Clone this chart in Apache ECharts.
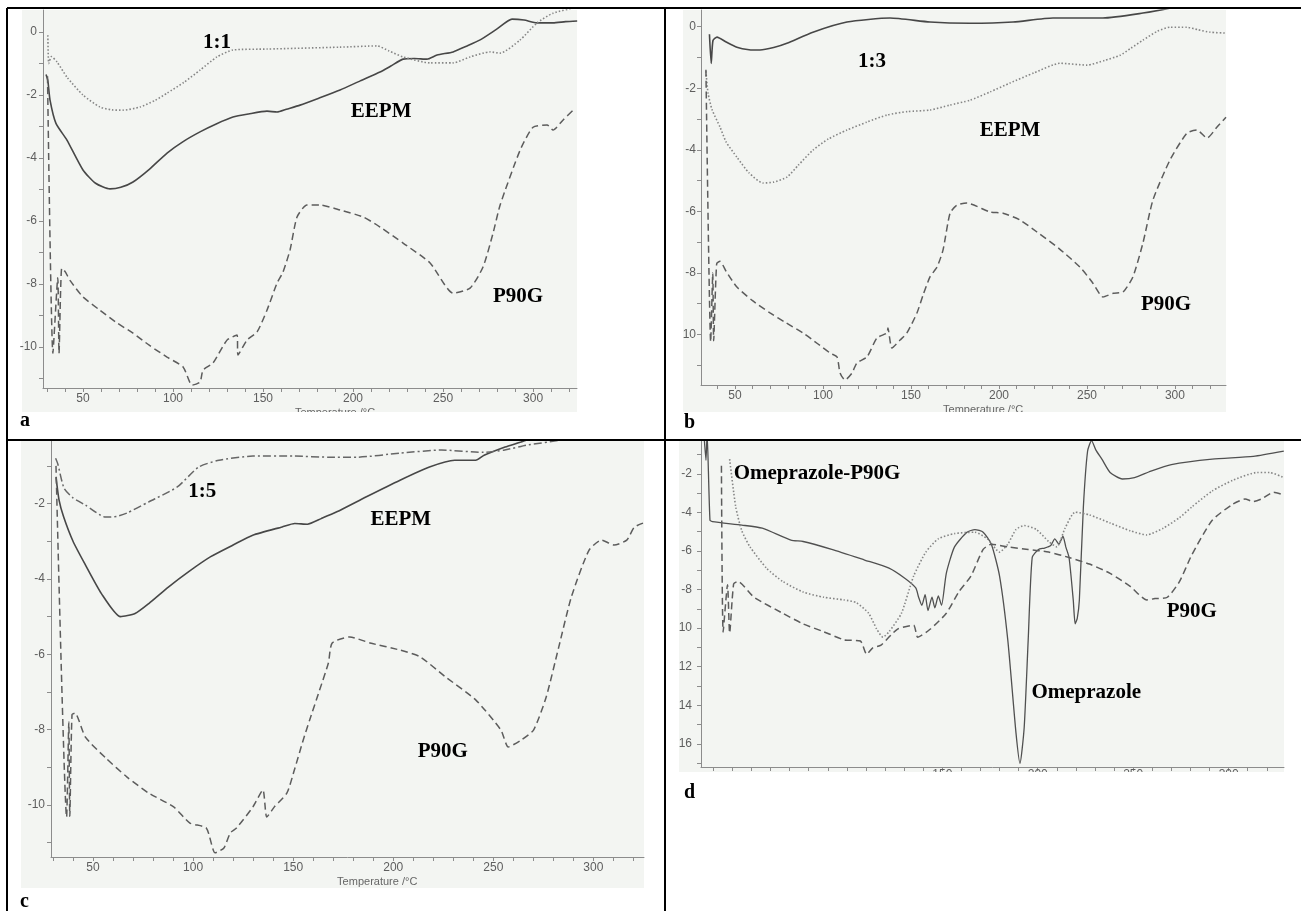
<!DOCTYPE html>
<html>
<head>
<meta charset="utf-8">
<script src="https://cdn.jsdelivr.net/npm/echarts@6/dist/echarts.min.js"></script>
<style>
  html, body { margin: 0; padding: 0; background: #fff; }
  #chart { width: 1301px; height: 911px; }
</style>
</head>
<body>
<div id="chart"></div>
<script>
// DSC thermograms, four panels (a-d). x = temperature (°C), y = heat flow.
// values as [temperature, heat flow] pairs

var xLabelVals = [50, 100, 150, 200, 250, 300];
var xLabelsD = [150, 200, 250, 300];
var yLabelsAB = [0, -2, -4, -6, -8, -10];
var yLabelsC = [-2, -4, -6, -8, -10];
var yLabelsD = [-2, -4, -6, -8, -10, -12, -14, -16];

// panel a : EEPM (solid), 1:1 (dotted), P90G (dashed)
var aEepm = [[29.5,-1.35],[30.5,-1.55],[31.7,-2.16],[35,-2.9],[41.1,-3.43],[50,-4.38],[57,-4.8],[65,-4.98],[71,-4.93],[77.8,-4.76],[87,-4.35],[96.7,-3.84],[105,-3.5],[115,-3.17],[124,-2.92],[133.3,-2.7],[142,-2.6],[152.2,-2.51],[157.8,-2.54],[163,-2.45],[170.6,-2.32],[181,-2.1],[192.8,-1.84],[204,-1.55],[215,-1.27],[221,-1.08],[227.8,-0.86],[234,-0.84],[241.1,-0.86],[246.7,-0.73],[255.6,-0.63],[263,-0.45],[270.6,-0.25],[280,0.1],[288.3,0.41],[295,0.38],[302.2,0.29],[311.1,0.29],[318,0.33],[324.5,0.35]];
var aRatio = [[30.5,-0.1],[31,-1.0],[32.5,-0.78],[35.6,-0.95],[41.1,-1.43],[50,-2.0],[59.4,-2.38],[66,-2.47],[72.2,-2.48],[81.7,-2.38],[90,-2.17],[96.7,-1.94],[106,-1.6],[115,-1.21],[124.4,-0.79],[133.3,-0.57],[152.2,-0.54],[192.8,-0.48],[213.3,-0.44],[220,-0.6],[227.8,-0.79],[242.8,-0.98],[255.6,-0.98],[265,-0.79],[276.1,-0.63],[281.7,-0.67],[292.8,-0.25],[302.2,0.29],[311.1,0.6],[322.2,0.76]];
var aP90g = [[30.3,-1.4],[33.3,-10.2],[36.0,-7.8],[36.7,-10.2],[38.2,-7.5],[40,-7.6],[43,-7.9],[50,-8.41],[59.4,-8.83],[68,-9.2],[77.8,-9.56],[87,-9.95],[96.7,-10.32],[105.6,-10.63],[110.6,-11.21],[115,-11.11],[116.7,-10.73],[122.2,-10.51],[130,-9.78],[135.6,-9.62],[136.1,-10.25],[141.1,-9.78],[146.7,-9.52],[152.2,-8.83],[157.8,-7.97],[161.1,-7.62],[165,-6.92],[168.9,-5.87],[174.4,-5.49],[181.7,-5.49],[192.8,-5.65],[205.6,-5.87],[215,-6.19],[227.8,-6.7],[242.8,-7.33],[255.6,-8.29],[265,-8.13],[272.2,-7.46],[277.8,-6.38],[281.7,-5.49],[292.8,-3.75],[300,-3.02],[307.8,-2.95],[311.1,-3.11],[316.7,-2.79],[322.2,-2.48]];

// panel b : 1:3 (solid), EEPM (dotted), P90G (dashed)
var bRatio = [[35.5,-0.25],[36.5,-1.2],[37.5,-0.45],[39.8,-0.34],[45,-0.5],[51.1,-0.67],[58,-0.75],[64.2,-0.76],[72,-0.68],[79.5,-0.54],[94.3,-0.18],[113.6,0.15],[138.1,0.28],[160.8,0.15],[183.5,0.11],[208,0.15],[230.7,0.28],[259.1,0.28],[281.8,0.44],[297.2,0.6],[312,0.8],[329,0.95]];
var bEepm = [[33.5,-1.45],[34.7,-2.16],[37,-2.7],[41.5,-3.26],[45,-3.75],[51.1,-4.24],[58,-4.75],[65.9,-5.08],[72,-5.05],[79.5,-4.89],[86,-4.5],[94.3,-4.01],[103,-3.65],[113.6,-3.36],[125,-3.1],[136.4,-2.87],[148,-2.76],[160.8,-2.71],[172,-2.55],[183.5,-2.39],[195,-2.12],[206.3,-1.83],[220,-1.5],[234.7,-1.19],[250,-1.25],[260,-1.1],[268.8,-0.93],[275,-0.7],[281.8,-0.44],[290,-0.15],[297.2,-0.02],[306.8,-0.02],[313,-0.1],[319.9,-0.18],[329,-0.21]];
var bP90g = [[33.5,-1.4],[36.2,-10.24],[37.4,-8.0],[37.9,-10.2],[39.6,-7.7],[41.5,-7.62],[45,-7.95],[51.1,-8.46],[60,-8.9],[69.9,-9.3],[79,-9.62],[88.6,-9.95],[97,-10.3],[104,-10.6],[108,-10.73],[109.7,-11.25],[112.5,-11.48],[116.5,-11.25],[119.3,-10.92],[125,-10.73],[130.7,-10.11],[136.4,-9.95],[136.9,-9.79],[139.2,-10.44],[143.8,-10.18],[147.7,-9.95],[153.4,-9.3],[157,-8.7],[160.8,-8.13],[164.8,-7.81],[168.2,-7.26],[172.2,-6.06],[176,-5.8],[181.8,-5.73],[194.9,-6.02],[202.3,-6.06],[211.9,-6.28],[221.6,-6.67],[234,-7.2],[246,-7.81],[253,-8.3],[259.1,-8.78],[265,-8.66],[270.5,-8.62],[276.1,-8.13],[281.8,-7.03],[287.5,-5.63],[297.2,-4.33],[306.8,-3.46],[312.5,-3.36],[318.2,-3.62],[323.9,-3.26],[329,-2.94]];

// panel c : EEPM (solid), 1:5 (dash-dot), P90G (dashed)
var cEepm = [[31.5,-1.3],[33,-1.9],[35.3,-2.35],[40,-3.0],[45.8,-3.59],[54.2,-4.39],[63.7,-5.0],[71,-4.92],[78,-4.65],[87.8,-4.21],[98,-3.8],[108.8,-3.41],[120,-3.1],[129.8,-2.84],[144.5,-2.62],[150.8,-2.53],[157.1,-2.55],[164,-2.4],[171.8,-2.22],[186.6,-1.82],[203.4,-1.38],[218.1,-1.03],[230.7,-0.85],[241.2,-0.85],[245.4,-0.72],[255.9,-0.5],[266.4,-0.32],[280,0]];
var cRatio = [[31.3,-0.8],[32.4,-0.95],[35.5,-1.59],[40,-1.85],[46.2,-2.04],[56.3,-2.36],[62,-2.34],[67,-2.25],[77.7,-1.96],[92.1,-1.56],[102.8,-1.03],[112.9,-0.85],[129.9,-0.74],[150.6,-0.74],[167.6,-0.77],[182.1,-0.77],[203.5,-0.66],[224.2,-0.58],[245,-0.64],[255.7,-0.58],[266.4,-0.45],[282.7,-0.32],[295,-0.1]];
var cP90g = [[31.5,-1.0],[36.8,-10.32],[37.9,-7.8],[38.4,-10.3],[39.5,-7.6],[41,-7.56],[46.2,-8.2],[56.3,-8.75],[67,-9.26],[77.7,-9.68],[90.3,-10.05],[98.4,-10.48],[106.6,-10.61],[111,-11.27],[115.4,-11.14],[118.6,-10.74],[121.7,-10.61],[129.9,-10.05],[134.9,-9.6],[136.8,-10.32],[140.6,-10.05],[146.9,-9.68],[150.6,-9.07],[155,-8.28],[158.2,-7.75],[163.2,-6.95],[167.6,-6.23],[169.5,-5.7],[178.3,-5.54],[188.4,-5.7],[203.5,-5.89],[213.5,-6.07],[226.1,-6.6],[241.2,-7.21],[253.8,-8.01],[257.5,-8.46],[263.8,-8.28],[270.1,-8.01],[276.4,-7.14],[282.7,-5.81],[289,-4.48],[297.8,-3.24],[304.1,-2.97],[310.4,-3.1],[316.7,-2.97],[320.4,-2.63],[324.8,-2.52]];

// panel d : Omeprazole (solid), Omeprazole-P90G (dotted), P90G (dashed)
var dOme = [[25,0.3],[26.2,-1.3],[26.8,0.1],[28.3,-4.4],[29.6,-4.48],[45,-4.66],[55.7,-4.82],[70.7,-5.44],[77.1,-5.51],[92.1,-5.92],[109.3,-6.47],[122.1,-6.89],[130.7,-7.44],[136.1,-7.92],[137.6,-8.4],[139.3,-8.82],[141,-8.26],[142.5,-9.09],[144.6,-8.4],[146.1,-8.95],[147.9,-8.33],[149.6,-8.82],[152.1,-7.16],[156.4,-5.79],[162.9,-5.03],[167.1,-4.89],[171.4,-5.03],[175.7,-5.65],[180,-7.3],[184.3,-10.61],[188.6,-15.43],[190.7,-17.01],[192.9,-15.15],[195,-10.61],[197.1,-6.34],[200.4,-5.92],[203.6,-5.85],[206.8,-5.72],[208.9,-5.37],[211.1,-5.65],[213.2,-5.23],[214.7,-5.79],[216.4,-6.34],[218.6,-8.54],[219.6,-9.78],[220.7,-9.5],[221.8,-8.54],[223.9,-3.72],[226.1,-0.83],[228.2,-0.28],[230.4,-0.76],[233.6,-1.24],[237.9,-1.93],[244.3,-2.27],[250.7,-2.2],[259.3,-1.86],[270,-1.52],[291.4,-1.24],[312.9,-1.1],[328.9,-0.83]];
var dMix = [[38.6,-1.24],[41.8,-3.72],[45,-4.96],[49.3,-5.79],[57.9,-6.89],[66.4,-7.58],[77.1,-8.13],[87.9,-8.4],[98.6,-8.54],[105,-8.68],[111.4,-9.23],[115.7,-10.06],[118.9,-10.47],[122.1,-10.19],[128.6,-9.23],[135,-7.3],[141.4,-6.06],[147.9,-5.37],[156.4,-5.1],[167.1,-5.03],[173.6,-5.37],[180,-6.06],[184.3,-5.65],[188.6,-4.89],[192.9,-4.68],[199.3,-4.89],[205.7,-5.51],[210,-5.79],[214.3,-4.82],[219.6,-3.99],[227.1,-4.13],[237.9,-4.55],[248.6,-4.96],[257.1,-5.17],[265.7,-4.82],[274.3,-4.27],[280.7,-3.72],[291.4,-2.89],[302.1,-2.34],[315,-1.93],[321.4,-1.93],[328.9,-2.2]];
var dP90g = [[34.3,-1.58],[35.2,-10.2],[37.5,-7.75],[38.6,-10.26],[40.7,-7.71],[42.9,-7.58],[51.4,-8.4],[66.4,-9.23],[77.1,-9.78],[87.9,-10.19],[98.6,-10.61],[107.1,-10.67],[110.4,-11.36],[113.6,-11.02],[117.9,-10.88],[126.4,-10.06],[135,-9.85],[137.1,-10.47],[143.6,-10.06],[152.1,-9.23],[158.6,-8.13],[165,-7.3],[171.4,-5.92],[175.7,-5.65],[184.3,-5.79],[195,-5.92],[205.7,-6.06],[216.4,-6.34],[227.1,-6.68],[237.9,-7.16],[248.6,-7.85],[257.1,-8.54],[261.4,-8.47],[267.9,-8.4],[274.3,-7.58],[280.7,-6.2],[291.4,-4.41],[302.1,-3.58],[308.6,-3.31],[312.9,-3.44],[317.1,-3.31],[323.6,-2.96],[328.9,-3.1]];

// curve labels, placed in data units of their panel
var curveLabels = [
  [0, '1:1', 124.4, -0.32, 'center'], [0, 'EEPM', 215.6, -2.51, 'center'], [0, 'P90G', 291.7, -8.41, 'center'],
  [1, '1:3', 127.8, -1.15, 'center'], [1, 'EEPM', 206.3, -3.39, 'center'], [1, 'P90G', 294.9, -9.04, 'center'],
  [2, '1:5', 104.6, -1.69, 'center'], [2, 'EEPM', 203.8, -2.42, 'center'], [2, 'P90G', 224.8, -8.59, 'center'],
  [3, 'Omeprazole-P90G', 40.7, -2.0, 'left'], [3, 'P90G', 280.7, -9.16, 'center'], [3, 'Omeprazole', 225.4, -13.33, 'center']
];

// panel boxes (pixels) and axis extents; cut = white strip left of the scan
var panels = [
  { bg: [22, 10, 555, 402], grid: [43, 10, 534, 378], x: [27.8, 324.4], y: [-11.3, 0.7], xLabels: xLabelVals, yLabels: yLabelsAB, labelMargin: 6, xMargin: 5, letter: ['a', 20, 421], nameT: 190, cut: null },
  { bg: [683, 10, 543, 402], grid: [701, 10, 525, 375], x: [30.7, 329], y: [-11.64, 0.54], xLabels: xLabelVals, yLabels: yLabelsAB, labelMargin: 5, xMargin: 5, letter: ['b', 684, 423], nameT: 191, cut: [666, 9, 17, 430] },
  { bg: [21, 441, 623, 447], grid: [51, 441, 593, 416], x: [29, 325.3], y: [-11.38, -0.34], xLabels: xLabelVals, yLabels: yLabelsC, labelMargin: 6, xMargin: 5, letter: ['c', 20, 902], nameT: 192, cut: null },
  { bg: [679, 441, 605, 331], grid: [701, 441, 583, 326], x: [23.6, 329], y: [-17.2, -0.3], xLabels: xLabelsD, yLabels: yLabelsD, labelMargin: 9, xMargin: 2, letter: ['d', 684, 793], nameT: null, cut: [666, 441, 13, 331] }
];

var sans = "'Liberation Sans', Arial, sans-serif";
var serif = "'Liberation Serif', 'Times New Roman', serif";

function minorTicks(lo, hi, step) {
  var out = [];
  var t = Math.ceil(lo / step) * step;
  for (; t <= hi; t += step) out.push(Math.round(t * 10) / 10);
  return out;
}

var solid = { color: '#474747', width: 1.6, type: 'solid' };
var thinSolid = { color: '#505050', width: 1.3, type: 'solid' };
var dotted = { color: '#858585', width: 1.6, type: [1.5, 2] };
var dashed = { color: '#5c5c5c', width: 1.5, type: [7, 4] };
var dashDot = { color: '#666666', width: 1.5, type: [8, 3, 2, 3] };

function curve(gi, data, style) {
  return {
    type: 'line', xAxisIndex: gi, yAxisIndex: gi, data: data,
    showSymbol: false, smooth: 0.2, silent: true, clip: true,
    lineStyle: style, z: 3
  };
}

var grids = [], xAxes = [], yAxes = [];
panels.forEach(function (p, i) {
  grids.push({ left: p.grid[0], top: p.grid[1], width: p.grid[2], height: p.grid[3] });
  xAxes.push({
    gridIndex: i, type: 'value', min: p.x[0], max: p.x[1],
    axisLine: { onZero: false, lineStyle: { color: '#8c8c8c', width: 1 } },
    axisTick: { customValues: minorTicks(p.x[0], p.x[1], 10), length: 4, lineStyle: { color: '#8c8c8c' } },
    axisLabel: { customValues: p.xLabels, color: '#5e5e5e', fontSize: 12, fontFamily: sans, margin: p.xMargin },
    splitLine: { show: false }
  });
  yAxes.push({
    gridIndex: i, type: 'value', min: p.y[0], max: p.y[1],
    axisLine: { onZero: false, lineStyle: { color: '#8c8c8c', width: 1 } },
    axisTick: { customValues: minorTicks(p.y[0], p.y[1], 1), length: 4, lineStyle: { color: '#8c8c8c' } },
    axisLabel: { customValues: p.yLabels, color: '#5e5e5e', fontSize: 12, fontFamily: sans, margin: p.labelMargin },
    splitLine: { show: false }
  });
});

var series = [
  curve(0, aEepm, solid), curve(0, aRatio, dotted), curve(0, aP90g, dashed),
  curve(1, bRatio, solid), curve(1, bEepm, dotted), curve(1, bP90g, dashed),
  curve(2, cEepm, solid), curve(2, cRatio, dashDot), curve(2, cP90g, dashed),
  curve(3, dOme, thinSolid), curve(3, dMix, dotted), curve(3, dP90g, dashed)
];

var chart = echarts.init(document.getElementById('chart'));
chart.setOption({
  animation: false,
  backgroundColor: '#ffffff',
  grid: grids, xAxis: xAxes, yAxis: yAxes, series: series
});

// scanned-image backgrounds, cut edges, table rules and texts
var g = [];
panels.forEach(function (p, i) {
  g.push({ type: 'rect', shape: { x: p.bg[0], y: p.bg[1], width: p.bg[2], height: p.bg[3] }, style: { fill: '#f3f5f2' }, z: -10, silent: true });
  // the scan is cropped just under the axis text
  g.push({ type: 'rect', shape: { x: p.bg[0] - 2, y: p.bg[1] + p.bg[3], width: p.bg[2] + 4, height: 14 }, style: { fill: '#ffffff' }, z: 100, silent: true });
  if (p.cut) {
    g.push({ type: 'rect', shape: { x: p.cut[0], y: p.cut[1], width: p.cut[2], height: p.cut[3] }, style: { fill: '#ffffff' }, z: 100, silent: true });
  }
  if (p.nameT !== null) {
    var pos = chart.convertToPixel({ gridIndex: i }, [p.nameT, p.y[0]]);
    g.push({ type: 'text', x: pos[0], y: pos[1] + 19, style: { text: 'Temperature /°C', font: '11px ' + sans, fill: '#666', align: 'center', verticalAlign: 'top' }, z: 50, silent: true });
  }
  g.push({ type: 'text', x: p.letter[1], y: p.letter[2], style: { text: p.letter[0], font: 'bold 20px ' + serif, fill: '#000', align: 'left', verticalAlign: 'middle' }, z: 130, silent: true });
});

curveLabels.forEach(function (l) {
  var pos = chart.convertToPixel({ gridIndex: l[0] }, [l[2], l[3]]);
  g.push({ type: 'text', x: pos[0], y: pos[1], style: { text: l[1], font: 'bold 21px ' + serif, fill: '#000', align: l[4], verticalAlign: 'middle' }, z: 120, silent: true });
});

// table rules
var rules = [[7, 8, 1301, 8], [7, 440, 1301, 440], [7, 8, 7, 911], [665, 8, 665, 911]];
rules.forEach(function (r) {
  g.push({ type: 'line', shape: { x1: r[0], y1: r[1], x2: r[2], y2: r[3] }, style: { stroke: '#000', lineWidth: 2 }, z: 110, silent: true });
});

chart.setOption({ graphic: { elements: g } });
</script>
</body>
</html>
